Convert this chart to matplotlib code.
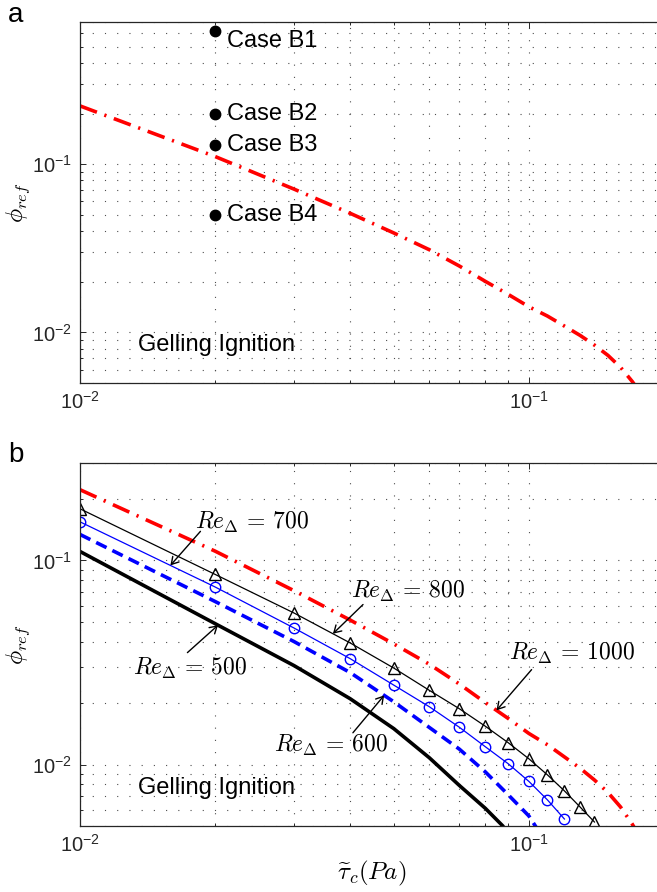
import numpy as np
import matplotlib
matplotlib.use('Agg')
import matplotlib.pyplot as plt
from matplotlib.ticker import LogLocator, NullFormatter

plt.rcParams['font.family'] = ['Liberation Sans', 'DejaVu Sans']
plt.rcParams['mathtext.fontset'] = 'custom'
plt.rcParams['mathtext.rm'] = 'Liberation Sans'
plt.rcParams['mathtext.it'] = 'Liberation Sans:italic'

# ignition boundary, Re_Delta = 1000 (red dash-dot, both panels)
tau_1000 = [0.01, 0.02, 0.03, 0.04, 0.05, 0.06, 0.07, 0.08, 0.09, 0.10,
            0.11, 0.12, 0.13, 0.14, 0.15, 0.16, 0.17, 0.18]
phi_1000 = [0.222, 0.111, 0.071, 0.051, 0.039, 0.031, 0.0248, 0.0201, 0.0168, 0.0142,
            0.0125, 0.0109, 0.0096, 0.0084, 0.0073, 0.0062, 0.0051, 0.0041]

# Re_Delta = 800, black triangles
tau_800 = [0.01, 0.02, 0.03, 0.04, 0.05, 0.06, 0.07, 0.08, 0.09, 0.10, 0.11, 0.12, 0.13, 0.14]
phi_800 = [0.179, 0.0854, 0.0552, 0.0394, 0.0297, 0.0231, 0.01877, 0.0154, 0.01278, 0.01067,
           0.0089, 0.00743, 0.0062, 0.00523]

# Re_Delta = 700, blue circles
tau_700 = [0.01, 0.02, 0.03, 0.04, 0.05, 0.06, 0.07, 0.08, 0.09, 0.10, 0.11, 0.12]
phi_700 = [0.1545, 0.0741, 0.0466, 0.0330, 0.0245, 0.0192, 0.01523, 0.01222, 0.01008, 0.00827,
           0.00671, 0.00541]

# Re_Delta = 600, blue dashed
tau_600 = [0.01, 0.02, 0.03, 0.04, 0.05, 0.06, 0.07, 0.08, 0.09, 0.10, 0.104]
phi_600 = [0.134, 0.0629, 0.040, 0.0282, 0.0203, 0.0152, 0.0119, 0.0092, 0.0071, 0.0056, 0.0049]

# Re_Delta = 500, thick black
tau_500 = [0.01, 0.02, 0.03, 0.04, 0.05, 0.06, 0.07, 0.08, 0.0875, 0.0885]
phi_500 = [0.1106, 0.049, 0.0305, 0.021, 0.015, 0.0108, 0.0079, 0.0061, 0.005, 0.0048]

# simulated cases
case_names = ['Case B1', 'Case B2', 'Case B3', 'Case B4']
case_tau = [0.02, 0.02, 0.02, 0.02]
case_phi = [0.62, 0.2, 0.13, 0.05]

W, H = 657, 892
fig = plt.figure(figsize=(W / 100, H / 100), dpi=100)
ax_a = fig.add_axes([80 / W, 1 - 383 / H, 584 / W, 361 / H])
ax_b = fig.add_axes([80 / W, 1 - 826 / H, 584 / W, 363 / H])


def style_axes(ax, ylim):
    ax.set_xscale('log')
    ax.set_yscale('log')
    ax.set_xlim(0.01, 0.2)
    ax.set_ylim(*ylim)
    for axis in (ax.xaxis, ax.yaxis):
        axis.set_minor_locator(LogLocator(base=10, subs=np.arange(2, 10)))
        axis.set_minor_formatter(NullFormatter())
    ax.grid(True, which='both', linestyle=(0, (1, 10)), linewidth=0.8, color='0.3')
    ax.tick_params(which='both', direction='in', top=True, right=True,
                   labelsize=14.5, width=0.7, colors='0.15', pad=6)
    ax.tick_params(which='major', length=4.5)
    ax.tick_params(which='minor', length=2.5)
    for sp in ax.spines.values():
        sp.set_linewidth(0.9)
        sp.set_color('0.15')
    ax.set_ylabel(r'$\phi_{ref}$', fontsize=17, math_fontfamily='cm')
    ax.yaxis.set_label_coords(-0.083, 0.5)
    ax.text(0.0997, 0.088, 'Gelling Ignition', transform=ax.transAxes,
            fontsize=17, va='baseline')


redline = dict(color='red', linewidth=2.6, linestyle=(0, (5, 2.2, 0.6, 2.2)))

# panel a
style_axes(ax_a, (0.005, 0.7))
ax_a.plot(tau_1000, phi_1000, **redline)
ax_a.plot(case_tau, case_phi, 'o', color='black', markersize=7.5)
for name, t, p in zip(case_names, case_tau, case_phi):
    dy = -7.5 if name == 'Case B1' else 0
    ax_a.annotate(name, xy=(t, p), xytext=(8.5, dy), textcoords='offset points',
                  va='center', fontsize=17)

# panel b
style_axes(ax_b, (0.005, 0.3))
ax_b.plot(tau_1000, phi_1000, **redline)
ax_b.plot(tau_800, phi_800, '-^', color='black', linewidth=0.9,
          markersize=8, markerfacecolor='none', markeredgewidth=1.0)
ax_b.plot(tau_700, phi_700, '-o', color='blue', linewidth=0.9,
          markersize=7.5, markerfacecolor='none', markeredgewidth=1.0)
ax_b.plot(tau_600, phi_600, color='blue', linewidth=2.6, linestyle=(0, (3.2, 1.8)))
ax_b.plot(tau_500, phi_500, color='black', linewidth=2.6)
ax_b.set_xlabel(r'$\widetilde{\tau}_c(Pa)$', fontsize=18, math_fontfamily='cm')
ax_b.xaxis.set_label_coords(0.5, -0.092)


def on_curve(x, taus, phis):
    return 10 ** np.interp(np.log10(x), np.log10(taus), np.log10(phis))


# label text (left, baseline), arrow start, arrow tip x on its curve
labels = [
    ('700', (0.01807, 0.1420), (0.01855, 0.1388), 0.0159, tau_700, phi_700),
    ('500', (0.01314, 0.02757), (0.01735, 0.03534), 0.0203, tau_500, phi_500),
    ('800', (0.04014, 0.0651), (0.04271, 0.0608), 0.0366, tau_800, phi_800),
    ('1000', (0.0901, 0.03266), (0.1014, 0.02917), 0.0847, tau_1000, phi_1000),
    ('600', (0.02701, 0.01154), (0.04055, 0.01431), 0.0476, tau_600, phi_600),
]
for re, txt_xy, start, tip_x, taus, phis in labels:
    ax_b.text(txt_xy[0], txt_xy[1], r'$Re_\Delta\,=\,%s$' % re, fontsize=17,
              math_fontfamily='cm', va='baseline', ha='left')
    ax_b.annotate('', xy=(tip_x, on_curve(tip_x, taus, phis)), xytext=start,
                  arrowprops=dict(arrowstyle='->,head_length=0.5,head_width=0.3',
                                  color='black', linewidth=1.0,
                                  shrinkA=0, shrinkB=0))

fig.text(8 / W, 1 - 22 / H, 'a', fontsize=20, va='baseline')
fig.text(8 / W, 1 - 462 / H, 'b', fontsize=20, va='baseline')

fig.savefig('out.png', dpi=100)
